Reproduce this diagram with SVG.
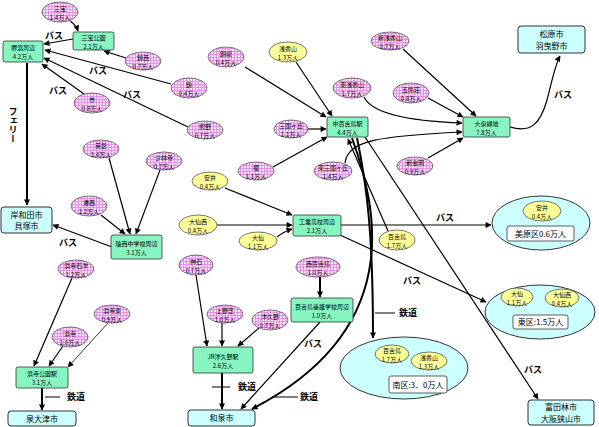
<svg xmlns="http://www.w3.org/2000/svg" width="599" height="427" viewBox="0 0 599 427">
<defs>
<pattern id="pk" width="3" height="3" patternUnits="userSpaceOnUse">
<rect width="3" height="3" fill="#fde4fd"/>
<rect width="3" height="1" fill="#e890e8"/>
<rect width="1" height="3" fill="#e890e8"/>
</pattern>
<marker id="a" viewBox="0 0 10 10" refX="9" refY="5" markerWidth="7" markerHeight="6" markerUnits="userSpaceOnUse" orient="auto">
<path d="M0,0 L10,5 L0,10 z" fill="#000"/>
</marker>
<style>
.pk{fill:url(#pk);stroke:#555;stroke-width:0.8}
.ye{fill:#ffff99;stroke:#555;stroke-width:0.8}
.gb{fill:#86f5c0;stroke:#333;stroke-width:0.8}
.cb{fill:#ccffff;stroke:#333;stroke-width:1}
.wb{fill:#fff;stroke:#333;stroke-width:0.8}
text{font-family:"Noto Sans CJK JP","Noto Sans",sans-serif;text-anchor:middle;fill:#000}
.t{font-size:6px}
.tc{font-size:8px}
.lb{font-size:9px;font-weight:bold}
.c{fill:none;stroke:#000;stroke-width:1.2;marker-end:url(#a)}
.k{stroke-width:2}
.n{fill:none;stroke:#000;stroke-width:1}
</style>
</defs>
<rect width="599" height="427" fill="#fff"/>

<g id="connectors">
<path class="c" d="M70,21 Q76,25 78,31"/>
<path class="c" d="M73,39 L44,44"/>
<path class="c" d="M126,58 L104,51"/>
<path class="c" d="M171,84 L45,50"/>
<path class="c" d="M84,94 L42,64"/>
<path class="c" d="M188,127 L44,58"/>
<path class="c k" d="M27,63 L27,205"/>
<path class="c" d="M109,158 L130,234"/>
<path class="c" d="M160,170 L136,234"/>
<path class="c" d="M101,215 L125,234"/>
<path class="c" d="M112,247 L53,225"/>
<path class="c" d="M72,278 L34,366"/>
<path class="c" d="M63,346 L49,366"/>
<path class="c" style="stroke-width:0.8" d="M108,323 L68,367"/>
<path class="c k" d="M42,388 L42,410"/>
<path class="c" d="M196,275 L207,346"/>
<path class="c" d="M222,323 L222,346"/>
<path class="c" d="M259,328 L238,346"/>
<path class="c k" d="M222,373 L222,409"/>
<path class="c k" d="M320,277 L320,297"/>
<path class="c" d="M320,322 L241,409"/>
<path class="c k" d="M352,138 C378,210 405,330 252,409"/>
<path class="c k" d="M357,138 C368,190 373,240 373,338"/>
<path class="c" d="M388,231 L348,139"/>
<path class="c" d="M365,137 L538,399"/>
<path class="c" d="M245,67 L326,117"/>
<path class="c" d="M296,62 L332,116"/>
<path class="c" d="M308,129 L326,129"/>
<path class="c" d="M273,167 L327,137"/>
<path class="c" d="M364,97 Q375,120 462,123"/>
<path class="c" d="M403,49 L476,116"/>
<path class="c" d="M428,98 L463,117"/>
<path class="c" d="M345,163 C348,140 380,136 462,132"/>
<path class="c" d="M428,158 L463,138"/>
<path class="c" d="M510,127 C530,133 540,125 547,100 C551,85 555,65 560,56"/>
<path class="c" d="M225,188 L292,215"/>
<path class="c" d="M217,225 L292,225"/>
<path class="c" d="M277,237 Q283,232 292,229"/>
<path class="c" d="M341,225 L491,225"/>
<path class="c" d="M340,235 L486,302"/>
<path class="n" d="M45,397 L60,397 M212,387 L230,387 M272,397 L298,397 M375,313 L395,313"/>
</g>

<g id="labels">
<text class="lb" x="54" y="39">バス</text>
<text class="lb" x="98" y="74">バス</text>
<text class="lb" x="58" y="94">バス</text>
<text class="lb" x="132" y="98">バス</text>
<text class="lb" x="68" y="246">バス</text>
<text class="lb" x="313" y="347">バス</text>
<text class="lb" x="445" y="221">バス</text>
<text class="lb" x="412" y="284">バス</text>
<text class="lb" x="533" y="373">バス</text>
<text class="lb" x="563" y="98">バス</text>
<text class="lb" x="76" y="400">鉄道</text>
<text class="lb" x="247" y="390">鉄道</text>
<text class="lb" x="309" y="400">鉄道</text>
<text class="lb" x="408" y="316">鉄道</text>
<text class="lb" x="13" y="107" style="writing-mode:vertical-rl;text-anchor:start">フェリー</text>
</g>

<g id="clusters">
<g id="mihara"><ellipse class="cb" cx="541" cy="223" rx="49" ry="27"/><rect class="wb" x="507" y="226" width="67" height="15" rx="2"/><text class="tc" x="540.5" y="236.5">美原区0.6万人</text></g>
<g id="higashi"><ellipse class="cb" cx="540" cy="312" rx="55" ry="27"/><rect class="wb" x="513" y="315" width="55" height="14" rx="2"/><text class="tc" x="540.5" y="325">東区:1.5万人</text></g>
<g id="minami"><ellipse class="cb" cx="404" cy="368" rx="64" ry="31"/><rect class="wb" x="389" y="376" width="58" height="17" rx="2"/><text class="tc" x="418" y="387.5">南区:3．0万人</text></g>
</g>

<g id="nodes">
<g id="n-sanpo"><ellipse class="pk" cx="60" cy="12" rx="18" ry="10"/><text class="t" x="60" y="10.5">三宝</text><text class="t" x="60" y="19.5">1.4万人</text></g>
<g id="n-nishikinishi"><ellipse class="pk" cx="143" cy="61" rx="18" ry="9"/><text class="t" x="143" y="59.5">錦西</text><text class="t" x="143" y="68.5">0.7万人</text></g>
<g id="n-nishiki"><ellipse class="pk" cx="189" cy="88" rx="18" ry="10"/><text class="t" x="189" y="86.5">錦</text><text class="t" x="189" y="95.5">0.4万人</text></g>
<g id="n-ichi"><ellipse class="pk" cx="92" cy="103" rx="18" ry="10"/><text class="t" x="92" y="101.5">市</text><text class="t" x="92" y="110.5">0.8万人</text></g>
<g id="n-kumano"><ellipse class="pk" cx="205" cy="130" rx="18" ry="9"/><text class="t" x="205" y="128.5">熊野</text><text class="t" x="205" y="137.5">0.7万人</text></g>
<g id="n-kinryo"><ellipse class="pk" cx="226" cy="57" rx="18" ry="10"/><text class="t" x="226" y="55.5">錦綾</text><text class="t" x="226" y="64.5">0.4万人</text></g>
<g id="n-shinasaka"><ellipse class="pk" cx="390" cy="41" rx="19" ry="9"/><text class="t" x="390" y="39.5">新浅香山</text><text class="t" x="390" y="48.5">0.7万人</text></g>
<g id="n-higashiasaka"><ellipse class="pk" cx="352" cy="88" rx="19" ry="10"/><text class="t" x="352" y="86.5">東浅香山</text><text class="t" x="352" y="95.5">1.7万人</text></g>
<g id="n-gokasho"><ellipse class="pk" cx="411" cy="93" rx="18" ry="10"/><text class="t" x="411" y="91.5">五箇荘</text><text class="t" x="411" y="100.5">0.8万人</text></g>
<g id="n-mikunigaoka"><ellipse class="pk" cx="291" cy="129" rx="17" ry="9"/><text class="t" x="291" y="127.5">三国ヶ丘</text><text class="t" x="291" y="136.5">1.1万人</text></g>
<g id="n-enoki"><ellipse class="pk" cx="256" cy="171" rx="18" ry="9"/><text class="t" x="256" y="169.5">榎</text><text class="t" x="256" y="178.5">1.1万人</text></g>
<g id="n-higashimikuni"><ellipse class="pk" cx="333" cy="171" rx="19" ry="9"/><text class="t" x="333" y="169.5">東三国ヶ丘</text><text class="t" x="333" y="178.5">1.4万人</text></g>
<g id="n-shinkanaoka"><ellipse class="pk" cx="415" cy="166" rx="18" ry="9"/><text class="t" x="415" y="164.5">新金岡</text><text class="t" x="415" y="173.5">0.9万人</text></g>
<g id="n-eisho"><ellipse class="pk" cx="101" cy="149" rx="18" ry="9"/><text class="t" x="101" y="147.5">英彰</text><text class="t" x="101" y="156.5">1.4万人</text></g>
<g id="n-shorinji"><ellipse class="pk" cx="164" cy="161" rx="18" ry="9"/><text class="t" x="164" y="159.5">少林寺</text><text class="t" x="164" y="168.5">0.7万人</text></g>
<g id="n-minatonishi"><ellipse class="pk" cx="89" cy="206" rx="18" ry="10"/><text class="t" x="89" y="204.5">湊西</text><text class="t" x="89" y="213.5">1.2万人</text></g>
<g id="n-hamaderaishizu"><ellipse class="pk" cx="76" cy="269" rx="18" ry="9"/><text class="t" x="76" y="267.5">浜寺石津</text><text class="t" x="76" y="276.5">1.2万人</text></g>
<g id="n-hamadera"><ellipse class="pk" cx="70" cy="337" rx="18" ry="10"/><text class="t" x="70" y="335.5">浜寺</text><text class="t" x="70" y="344.5">1.0万人</text></g>
<g id="n-hamaderahigashi"><ellipse class="pk" cx="112" cy="314" rx="18" ry="9"/><text class="t" x="112" y="312.5">浜寺東</text><text class="t" x="112" y="321.5">0.9万人</text></g>
<g id="n-kamiishi"><ellipse class="pk" cx="196" cy="265" rx="17" ry="10"/><text class="t" x="196" y="263.5">神石</text><text class="t" x="196" y="272.5">0.7万人</text></g>
<g id="n-uenoshiba"><ellipse class="pk" cx="225" cy="314" rx="18" ry="9"/><text class="t" x="225" y="312.5">上野芝</text><text class="t" x="225" y="321.5">1.0万人</text></g>
<g id="n-tsukuno"><ellipse class="pk" cx="270" cy="320" rx="18" ry="10"/><text class="t" x="270" y="318.5">津久野</text><text class="t" x="270" y="327.5">0.7万人</text></g>
<g id="n-nishimozu"><ellipse class="pk" cx="318" cy="267" rx="22" ry="10"/><text class="t" x="318" y="265.5">西百舌鳥</text><text class="t" x="318" y="274.5">1.0万人</text></g>

<g id="y-asakayama"><ellipse class="ye" cx="288" cy="52" rx="19" ry="10"/><text class="t" x="288" y="50.5">浅香山</text><text class="t" x="288" y="59.5">1.3万人</text></g>
<g id="y-yasui"><ellipse class="ye" cx="210" cy="181" rx="18" ry="9"/><text class="t" x="210" y="179.5">安井</text><text class="t" x="210" y="188.5">0.4万人</text></g>
<g id="y-daisennishi"><ellipse class="ye" cx="198" cy="225" rx="19" ry="10"/><text class="t" x="198" y="223.5">大仙西</text><text class="t" x="198" y="232.5">0.4万人</text></g>
<g id="y-daisen"><ellipse class="ye" cx="258" cy="241" rx="19" ry="9"/><text class="t" x="258" y="239.5">大仙</text><text class="t" x="258" y="248.5">1.1万人</text></g>
<g id="y-mozu"><ellipse class="ye" cx="397" cy="240" rx="18" ry="10"/><text class="t" x="397" y="238.5">百舌鳥</text><text class="t" x="397" y="247.5">1.7万人</text></g>
<g id="y-yasui2"><ellipse class="ye" cx="542" cy="211" rx="19" ry="10"/><text class="t" x="542" y="209.5">安井</text><text class="t" x="542" y="218.5">0.4万人</text></g>
<g id="y-daisen2"><ellipse class="ye" cx="517" cy="297" rx="16" ry="9"/><text class="t" x="517" y="295.5">大仙</text><text class="t" x="517" y="304.5">1.1万人</text></g>
<g id="y-daisennishi2"><ellipse class="ye" cx="562" cy="298" rx="17" ry="9"/><text class="t" x="562" y="296.5">大仙西</text><text class="t" x="562" y="305.5">0.4万人</text></g>
<g id="y-mozu2"><ellipse class="ye" cx="392" cy="354" rx="17" ry="9"/><text class="t" x="392" y="352.5">百舌鳥</text><text class="t" x="392" y="361.5">1.7万人</text></g>
<g id="y-asakayama2"><ellipse class="ye" cx="429" cy="361" rx="18" ry="9"/><text class="t" x="429" y="359.5">浅香山</text><text class="t" x="429" y="368.5">1.3万人</text></g>

<g id="b-sanpokoen"><rect class="gb" x="73" y="32" width="41" height="18" rx="2"/><text class="t" x="93.5" y="39.5">三宝公園</text><text class="t" x="93.5" y="48.5">2.1万人</text></g>
<g id="b-sakaihama"><rect class="gb" x="3" y="41" width="40" height="21" rx="2"/><text class="t" x="23" y="50">堺浜周辺</text><text class="t" x="23" y="59">4.2万人</text></g>
<g id="b-nakamozu"><rect class="gb" x="327" y="117" width="41" height="20" rx="2"/><text class="t" x="347.5" y="125.5">中百舌鳥駅</text><text class="t" x="347.5" y="134.5">4.4万人</text></g>
<g id="b-oizumi"><rect class="gb" x="463" y="117" width="47" height="20" rx="2"/><text class="t" x="486.5" y="125.5">大泉緑地</text><text class="t" x="486.5" y="134.5">7.8万人</text></g>
<g id="b-kogyo"><rect class="gb" x="293" y="215" width="48" height="21" rx="2"/><text class="t" x="317" y="224">工業高校周辺</text><text class="t" x="317" y="233">2.1万人</text></g>
<g id="b-ryosei"><rect class="gb" x="111" y="235" width="51" height="24" rx="2"/><text class="t" x="136.5" y="245.5">陵西中学校周辺</text><text class="t" x="136.5" y="254.5">3.1万人</text></g>
<g id="b-mozuyogo"><rect class="gb" x="291" y="298" width="62" height="24" rx="2"/><text class="t" x="322" y="308.5">百舌鳥養護学校周辺</text><text class="t" x="322" y="317.5">1.0万人</text></g>
<g id="b-jrtsukuno"><rect class="gb" x="193" y="347" width="60" height="26" rx="2"/><text class="t" x="223" y="358.5">JR津久野駅</text><text class="t" x="223" y="367.5">2.6万人</text></g>
<g id="b-hamaderakoen"><rect class="gb" x="16" y="367" width="52" height="21" rx="2"/><text class="t" x="42" y="376">浜寺公園駅</text><text class="t" x="42" y="385">3.1万人</text></g>

<g id="c-matsubara"><rect class="cb" x="518" y="26" width="67" height="27" rx="3"/><text class="tc" x="551.5" y="37">松原市</text><text class="tc" x="551.5" y="48.5">羽曳野市</text></g>
<g id="c-kishiwada"><rect class="cb" x="1" y="207" width="51" height="26" rx="3"/><text class="tc" x="26.5" y="217.5">岸和田市</text><text class="tc" x="26.5" y="229">貝塚市</text></g>
<g id="c-izumiotsu"><rect class="cb" x="8" y="411" width="68" height="15" rx="3"/><text class="tc" x="42" y="421.5">泉大津市</text></g>
<g id="c-izumi"><rect class="cb" x="188" y="410" width="67" height="16" rx="3"/><text class="tc" x="221.5" y="421">和泉市</text></g>
<g id="c-tondabayashi"><rect class="cb" x="528" y="400" width="66" height="25" rx="3"/><text class="tc" x="561" y="410">富田林市</text><text class="tc" x="561" y="421.5">大阪狭山市</text></g>
</g>
</svg>
